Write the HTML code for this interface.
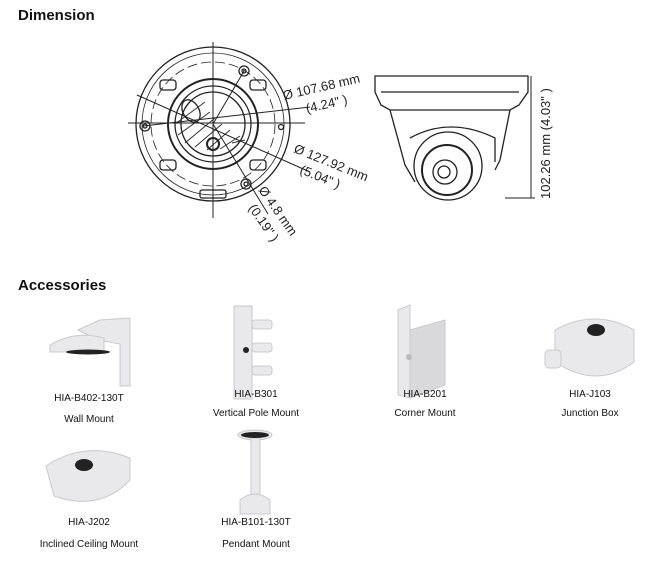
<!DOCTYPE html>
<html><head><style>
html,body{margin:0;padding:0;background:#fff;width:666px;height:571px;overflow:hidden}
svg{display:block}
text{font-family:"Liberation Sans",sans-serif}
</style></head><body>
<svg width="666" height="571" viewBox="0 0 666 571">
<text x="18" y="20" font-size="15" font-weight="bold" fill="#111">Dimension</text>
<text x="18" y="290" font-size="15" font-weight="bold" fill="#111">Accessories</text>

<!-- top view -->
<g fill="none" stroke="#222" stroke-width="1.3">
<circle cx="213" cy="124" r="77"/>
<circle cx="213" cy="124" r="71" stroke-width="0.8"/>
<circle cx="213" cy="124" r="62" stroke-dasharray="10 4" stroke-width="0.8"/>
<circle cx="213" cy="124" r="45" stroke-width="2"/>
<circle cx="213" cy="124" r="38"/>
<circle cx="213" cy="124" r="32"/>
<circle cx="244" cy="71" r="5"/><circle cx="244" cy="71" r="2"/>
<circle cx="145" cy="126" r="5"/><circle cx="145" cy="126" r="2"/>
<circle cx="246" cy="184" r="5"/><circle cx="246" cy="184" r="2"/>
<circle cx="281" cy="127" r="2.5"/>
<ellipse cx="191" cy="111" rx="8" ry="12" transform="rotate(-30 191 111)"/>
<rect x="160" y="80" width="16" height="10" rx="3"/>
<rect x="250" y="80" width="16" height="10" rx="3"/>
<rect x="160" y="160" width="16" height="10" rx="3"/>
<rect x="250" y="160" width="16" height="10" rx="3"/>
<rect x="200" y="190" width="26" height="8" rx="2"/>
</g>
<g stroke="#333" stroke-width="1">
<path d="M175 124 L205 102 M178 135 L210 112 M185 143 L215 118 M195 147 L222 124 M207 150 L230 130 M220 149 L240 136 M232 143 L245 140"/>
</g>
<circle cx="213" cy="144" r="6" fill="none" stroke="#222" stroke-width="2"/>
<g stroke="#222" stroke-width="1">
<line x1="213" y1="42" x2="213" y2="218"/>
<line x1="128" y1="123" x2="305" y2="123"/>
<line x1="143" y1="126" x2="310" y2="107"/>
<line x1="137" y1="95" x2="310" y2="172"/>
<line x1="213" y1="124" x2="244" y2="71"/>
<line x1="213" y1="124" x2="268" y2="214"/>
</g>

<text font-size="13" fill="#222" transform="translate(284,100) rotate(-13)">Ø 107.68 mm</text>
<text font-size="13" fill="#222" transform="translate(307,113) rotate(-13)">(4.24" )</text>
<text font-size="13" fill="#222" transform="translate(293,152) rotate(22)">Ø 127.92 mm</text>
<text font-size="13" fill="#222" transform="translate(299,173) rotate(22)">(5.04" )</text>
<text font-size="13" fill="#222" transform="translate(258,190) rotate(55)">Ø 4.8 mm</text>
<text font-size="13" fill="#222" transform="translate(248,208) rotate(55)">(0.19" )</text>

<!-- side view -->
<g fill="none" stroke="#222" stroke-width="1.3">
<path d="M375 76 H528 V92 L519 105 L510 110 H390 L381 105 L375 92 Z"/>
<path d="M390 110 L405 165 L415 182 M510 110 L500 160 L495 170"/>
<path d="M381 92 H519"/>
<path d="M410 138 Q450 116 495 138 L495 162"/>
<ellipse cx="448" cy="166" rx="34" ry="34"/>
<ellipse cx="447" cy="170" rx="25" ry="25" stroke-width="2"/>
<ellipse cx="445" cy="172" rx="12" ry="12"/>
<ellipse cx="444" cy="172" rx="6" ry="6"/>
</g>
<g stroke="#222" stroke-width="1">
<line x1="531" y1="76" x2="531" y2="198"/>
<line x1="505" y1="198" x2="535" y2="198"/>
</g>
<text font-size="13" fill="#222" transform="translate(550,199) rotate(-90)">102.26 mm (4.03" )</text>

<!-- accessories images -->
<g fill="#e9e9eb" stroke="#c9c9cc" stroke-width="1">
<path d="M78 330 L100 320 L130 318 L130 386 L120 386 L120 344 L98 340 Z"/>
<path d="M50 345 Q75 330 104 338 L104 352 L50 352 Z"/>
<rect x="234" y="306" width="18" height="93"/>
<rect x="252" y="320" width="20" height="9" rx="3"/>
<rect x="252" y="343" width="20" height="9" rx="3"/>
<rect x="252" y="366" width="20" height="9" rx="3"/>
<path d="M398 310 L410 305 L410 398 L398 395 Z"/>
<path d="M410 330 L445 320 L445 385 L410 398 Z" fill="#d9d9dc"/>
<path d="M555 330 Q595 308 634 330 L634 362 Q597 390 555 362 Z"/>
<rect x="545" y="350" width="16" height="18" rx="4"/>
<path d="M46 466 Q85 440 130 458 L130 480 Q100 512 54 496 Z"/>
<ellipse cx="255" cy="435" rx="17" ry="5"/>
<rect x="251" y="438" width="9" height="58"/>
<path d="M240 500 Q255 488 270 500 L270 514 L240 514 Z"/>
</g>
<g fill="#222">
<ellipse cx="88" cy="352" rx="22" ry="2.5"/>
<ellipse cx="596" cy="330" rx="9" ry="6"/>
<ellipse cx="84" cy="465" rx="9" ry="6"/>
<ellipse cx="255" cy="435" rx="14" ry="3"/>
<circle cx="246" cy="350" r="3"/>
<circle cx="409" cy="357" r="3" fill="#bbb"/>
</g>

<g font-size="10" fill="#111" text-anchor="middle">
<text x="89" y="401">HIA-B402-130T</text>
<text x="89" y="422">Wall Mount</text>
<text x="256" y="397">HIA-B301</text>
<text x="256" y="416">Vertical Pole Mount</text>
<text x="425" y="397">HIA-B201</text>
<text x="425" y="416">Corner Mount</text>
<text x="590" y="397">HIA-J103</text>
<text x="590" y="416">Junction Box</text>
<text x="89" y="525">HIA-J202</text>
<text x="89" y="547">Inclined Ceiling Mount</text>
<text x="256" y="525">HIA-B101-130T</text>
<text x="256" y="547">Pendant Mount</text>
</g>
</svg>
</body></html>
